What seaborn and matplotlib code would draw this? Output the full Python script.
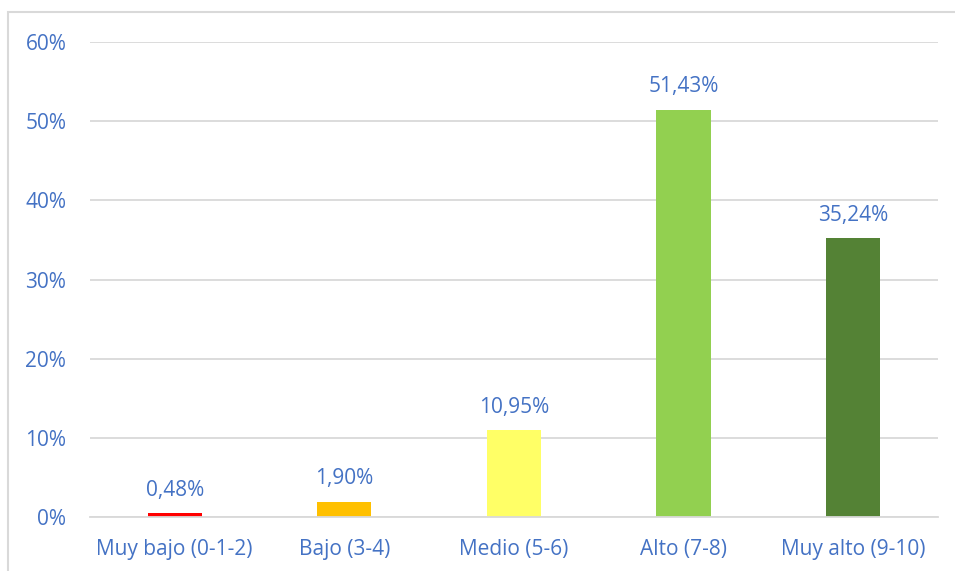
import matplotlib
matplotlib.use("Agg")
import matplotlib.pyplot as plt
import seaborn as sns
import pandas as pd
from matplotlib.patches import Rectangle

categorias = ["Muy bajo (0-1-2)", "Bajo (3-4)", "Medio (5-6)", "Alto (7-8)", "Muy alto (9-10)"]
porcentajes = [0.48, 1.90, 10.95, 51.43, 35.24]
colores = ["#FF0000", "#FFC000", "#FFFF66", "#92D050", "#548235"]
yticks = [0, 10, 20, 30, 40, 50, 60]

azul = "#4472C4"
gris = "#D9D9D9"

sns.set_style("white")
plt.rcParams["font.family"] = ["Open Sans", "DejaVu Sans"]

df = pd.DataFrame({"categoria": categorias, "pct": porcentajes})

fig = plt.figure(figsize=(9.55, 5.71), dpi=100)
ax = fig.add_axes([0.0942, 0.0946, 0.8878, 0.8318])

sns.barplot(data=df, x="categoria", y="pct", hue="categoria", palette=colores,
            width=0.32, legend=False, ax=ax, saturation=1, linewidth=0)

ax.set_ylim(0, 60)
ax.set_xlim(-0.5, len(categorias) - 0.5)
ax.set_yticks(yticks)
ax.set_yticklabels([f"{t}%" for t in yticks])
ax.yaxis.grid(True, color=gris, linewidth=1.3)
ax.set_axisbelow(True)
for s in ["top", "right", "left"]:
    ax.spines[s].set_visible(False)
ax.spines["bottom"].set_color(gris)
ax.spines["bottom"].set_linewidth(1.3)
ax.tick_params(axis="both", length=0, labelsize=15, labelcolor=azul)
ax.tick_params(axis="y", pad=17)
ax.tick_params(axis="x", pad=16)
ax.set_xlabel("")
ax.set_ylabel("")

for i, v in enumerate(porcentajes):
    ax.annotate(f"{v:.2f}%".replace(".", ","), (i, v), xytext=(0, 9),
                textcoords="offset points", ha="center", va="bottom",
                fontsize=15, color=azul)

fig.patches.append(Rectangle((8 / 955, -0.1), 1.0, 1 - 12 / 571 + 0.1,
                             transform=fig.transFigure, fill=False,
                             edgecolor=gris, linewidth=1.5))

fig.savefig("out.png", dpi=100)
